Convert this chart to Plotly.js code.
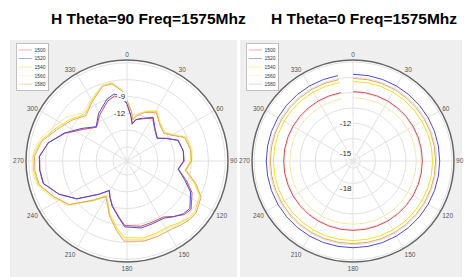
<!DOCTYPE html>
<html>
<head>
<meta charset="utf-8">
<script src="https://cdn.plot.ly/plotly-3.0.1.min.js"></script>
<style>
html,body{margin:0;padding:0;background:#fff;}
#chart{width:464px;height:277px;}
</style>
</head>
<body>
<div id="chart"></div>
<script>
// ---- Data ----
const seriesNames = ["1500", "1520", "1540", "1560", "1580"];
const angleTicks = [0, 30, 60, 90, 120, 150, 180, 210, 240, 270, 300, 330];
const angleTickText = ["0", "30", "60", "90", "120", "150", "180", "210", "240", "270", "300", "330"];

// Left chart: H Theta=90 (gain in dB vs azimuth in degrees)
const thetaLeft = [0, 5, 8, 12, 20, 31, 40, 53, 60, 68, 80, 90, 99, 108, 116, 127, 133, 140, 147, 158, 168, 182, 188, 198, 205, 211, 220, 233, 244, 255, 264, 273, 283, 294, 306, 318, 329, 342, 349, 356, 360];
const left1500 = [-10.4, -12.5, -13.9, -13.0, -12.5, -11.6, -12.9, -13.8, -12.5, -10.7, -10.3, -10.3, -11.2, -9.4, -7.6, -6.2, -6.5, -7.6, -8.6, -8.7, -8.6, -9.0, -10.4, -12.1, -13.4, -14.4, -12.8, -9.3, -7.0, -5.1, -4.9, -4.9, -6.1, -8.4, -10.9, -12.4, -11.0, -9.3, -8.7, -9.3, -10.4];
const left1520 = [-10.24, -12.4, -13.77, -12.94, -12.4, -11.45, -12.76, -13.73, -12.4, -10.65, -10.31, -10.42, -11.28, -9.7, -7.9, -6.46, -6.73, -7.54, -8.37, -8.44, -8.3, -8.75, -10.22, -11.99, -13.3, -14.33, -12.76, -9.29, -7.0, -5.02, -4.84, -4.84, -6.1, -8.26, -10.6, -12.29, -10.64, -8.93, -8.33, -8.98, -10.24];
const left1540 = [-9.7, -11.5, -12.94, -12.04, -11.14, -10.15, -11.5, -12.22, -11.14, -9.16, -8.89, -9.16, -10.01, -7.9, -6.1, -5.38, -5.56, -6.1, -6.64, -6.64, -6.46, -6.82, -8.26, -10.6, -12.4, -13.3, -11.5, -7.54, -5.92, -4.12, -3.76, -3.76, -4.66, -6.46, -7.9, -9.34, -8.08, -6.28, -6.37, -7.9, -9.7];
const left1560 = [-9.9, -11.7, -13.0, -12.2, -11.0, -10.0, -11.3, -12.0, -11.0, -9.0, -8.7, -8.9, -9.8, -7.7, -6.0, -5.3, -5.4, -5.9, -6.4, -6.4, -6.2, -6.5, -8.0, -10.4, -12.2, -13.1, -11.2, -7.3, -5.6, -3.9, -3.5, -3.6, -4.3, -5.9, -7.2, -8.9, -7.8, -6.3, -6.2, -7.8, -9.9];
const left1580 = [-9.8, -11.6, -13.1, -12.3, -11.3, -10.4, -11.6, -12.3, -11.3, -9.4, -9.0, -9.0, -9.9, -7.6, -5.8, -5.1, -5.2, -5.6, -6.0, -6.0, -5.9, -6.2, -7.8, -10.3, -12.2, -13.1, -11.4, -7.6, -6.0, -4.3, -4.0, -4.0, -4.9, -6.8, -8.2, -9.6, -8.3, -6.5, -6.5, -8.0, -9.8];

// Right chart: H Theta=0 (nearly constant gain)
const thetaRight = [0, 10, 20, 30, 40, 50, 60, 70, 80, 90, 100, 110, 120, 130, 140, 150, 160, 170, 180, 190, 200, 210, 220, 230, 240, 250, 260, 270, 280, 290, 300, 310, 320, 330, 340, 350];
const right1500 = [-8.9, -8.9, -8.9, -8.9, -8.9, -8.9, -8.9, -8.9, -8.9, -8.9, -8.9, -8.9, -8.9, -8.9, -8.9, -8.9, -8.9, -8.9, -8.9, -8.9, -8.9, -8.9, -8.9, -8.9, -8.9, -8.9, -8.9, -8.9, -8.9, -8.9, -8.9, -8.9, -8.9, -8.9, -8.9, -8.9];
const right1520 = [-7.2, -7.2, -7.2, -7.2, -7.2, -7.2, -7.2, -7.2, -7.2, -7.2, -7.2, -7.2, -7.2, -7.2, -7.2, -7.2, -7.2, -7.2, -7.2, -7.2, -7.2, -7.2, -7.2, -7.2, -7.2, -7.2, -7.2, -7.2, -7.2, -7.2, -7.2, -7.2, -7.2, -7.2, -7.2, -7.2];
const right1540 = [-7.9, -7.9, -7.9, -7.9, -7.9, -7.9, -7.9, -7.9, -7.9, -7.9, -7.9, -7.9, -7.9, -7.9, -7.9, -7.9, -7.9, -7.9, -7.9, -7.9, -7.9, -7.9, -7.9, -7.9, -7.9, -7.9, -7.9, -7.9, -7.9, -7.9, -7.9, -7.9, -7.9, -7.9, -7.9, -7.9];
const right1560 = [-9.5, -9.5, -9.5, -9.5, -9.5, -9.5, -9.5, -9.5, -9.5, -9.5, -9.5, -9.5, -9.5, -9.5, -9.5, -9.5, -9.5, -9.5, -9.5, -9.5, -9.5, -9.5, -9.5, -9.5, -9.5, -9.5, -9.5, -9.5, -9.5, -9.5, -9.5, -9.5, -9.5, -9.5, -9.5, -9.5];
const right1580 = [-7.6, -7.6, -7.6, -7.6, -7.6, -7.6, -7.6, -7.6, -7.6, -7.6, -7.6, -7.6, -7.6, -7.6, -7.6, -7.6, -7.6, -7.6, -7.6, -7.6, -7.6, -7.6, -7.6, -7.6, -7.6, -7.6, -7.6, -7.6, -7.6, -7.6, -7.6, -7.6, -7.6, -7.6, -7.6, -7.6];

const leftTickVals = [-18, -15, -12, -9, -6, -3];
const leftTickText = ["", "", "-12", "-9", "", ""];
const rightTickVals = [-15, -13.5, -12, -10.5, -9, -7.5, -6];
const rightTickText = ["-15", "", "-12", "", "", "", ""];
const rightExtraLabel = "-18";

// ---- Styles ----
const FONT = "Arial, Liberation Sans, sans-serif";
const colors = ["#e04a50", "#4b4bdc", "#f0e020", "#f5e8a8", "#e6a85a"];
const leftSeries = [left1500, left1520, left1540, left1560, left1580];
const rightSeries = [right1500, right1520, right1540, right1560, right1580];

const traces = [];
seriesNames.forEach((n, i) => {
  traces.push({type: "scatterpolar", mode: "lines", r: leftSeries[i], theta: thetaLeft, name: n,
    subplot: "polar", legend: "legend", line: {color: colors[i], width: 1}});
});
seriesNames.forEach((n, i) => {
  traces.push({type: "scatterpolar", mode: "lines", r: rightSeries[i], theta: thetaRight, name: n,
    subplot: "polar2", legend: "legend2", line: {color: colors[i], width: 1}});
});

function angAxis() {
  return {rotation: 90, direction: "clockwise", tickmode: "array", tickvals: angleTicks, ticktext: angleTickText,
    ticks: "", showline: true, linecolor: "#666", linewidth: 1.5, gridcolor: "#e2e2e2",
    tickfont: {family: FONT, size: 6.5, color: "#555"}};
}
function radAxis(range, tv, tt) {
  return {range: range, tickmode: "array", tickvals: tv, ticktext: tt, angle: 90, tickangle: 90,
    side: "counterclockwise", showline: false, ticks: "", gridcolor: "#e2e2e2", layer: "above traces",
    tickfont: {family: FONT, size: 8, color: "#333"}};
}
const legendStyle = (x) => ({x: x, y: 1 - 43 / 277, xanchor: "left", yanchor: "top", bgcolor: "#fff",
  bordercolor: "#777", borderwidth: 1, font: {family: FONT, size: 11, color: "#333"},
  itemwidth: 30, tracegroupgap: 0});

const R = 101;
const cy = 277 - 161;
const layout = {
  width: 464, height: 277, margin: {l: 0, r: 0, t: 0, b: 0},
  paper_bgcolor: "#fff", showlegend: true,
  shapes: [
    {type: "rect", xref: "paper", yref: "paper", x0: 10 / 464, x1: 237 / 464, y0: 0, y1: 1 - 40 / 277,
      fillcolor: "#efefef", line: {width: 0}, layer: "below"},
    {type: "rect", xref: "paper", yref: "paper", x0: 240 / 464, x1: 462 / 464, y0: 0, y1: 1 - 40 / 277,
      fillcolor: "#efefef", line: {width: 0}, layer: "below"}
  ],
  polar: {domain: {x: [(127 - R) / 464, (127 + R) / 464], y: [(cy - R) / 277, (cy + R) / 277]}, bgcolor: "#fff",
    angularaxis: angAxis(), radialaxis: radAxis([-20.5, -2.5], leftTickVals, leftTickText)},
  polar2: {domain: {x: [(353 - R) / 464, (353 + R) / 464], y: [(cy - R) / 277, (cy + R) / 277]}, bgcolor: "#fff",
    angularaxis: angAxis(), radialaxis: radAxis([-15.7, -5.8], rightTickVals, rightTickText)},
  legend: legendStyle(16 / 464),
  legend2: legendStyle(246 / 464),
  annotations: [
    {text: "<b>H Theta=90 Freq=1575Mhz</b>", xref: "paper", yref: "paper", x: 148 / 464, y: 1 - 19 / 277,
      showarrow: false, xanchor: "center", yanchor: "middle", font: {family: FONT, size: 15.5, color: "#000"}},
    {text: "<b>H Theta=0 Freq=1575Mhz</b>", xref: "paper", yref: "paper", x: 364 / 464, y: 1 - 19 / 277,
      showarrow: false, xanchor: "center", yanchor: "middle", font: {family: FONT, size: 15.5, color: "#000"}},
    {text: rightExtraLabel, xref: "paper", yref: "paper", x: 346 / 464, y: 1 - 188 / 277,
      showarrow: false, xanchor: "center", yanchor: "middle", font: {family: FONT, size: 8, color: "#333"}}
  ]
};

Plotly.newPlot("chart", traces, layout, {displayModeBar: false, staticPlot: true}).then(function (gd) {
  // compact MATLAB-like legend boxes
  gd.querySelectorAll(".infolayer > g").forEach(function (g) {
    const cls = g.getAttribute("class") || "";
    if (/^legend\d*$/.test(cls)) {
      const t = g.getAttribute("transform") || "";
      g.setAttribute("transform", t + " scale(0.45)");
    }
  });
  // white backing behind radial tick labels (as in the MATLAB original)
  gd.querySelectorAll(".polarlayer .radial-axis text").forEach(function (t) {
    if (!(t.textContent || "").trim()) return;
    const bb = t.getBBox();
    const rect = document.createElementNS("http://www.w3.org/2000/svg", "rect");
    rect.setAttribute("x", bb.x - 1);
    rect.setAttribute("y", bb.y);
    rect.setAttribute("width", bb.width + 2);
    rect.setAttribute("height", bb.height);
    rect.setAttribute("fill", "#fff");
    const tr = t.getAttribute("transform");
    if (tr) rect.setAttribute("transform", tr);
    t.parentNode.insertBefore(rect, t);
  });
});
</script>
</body>
</html>
